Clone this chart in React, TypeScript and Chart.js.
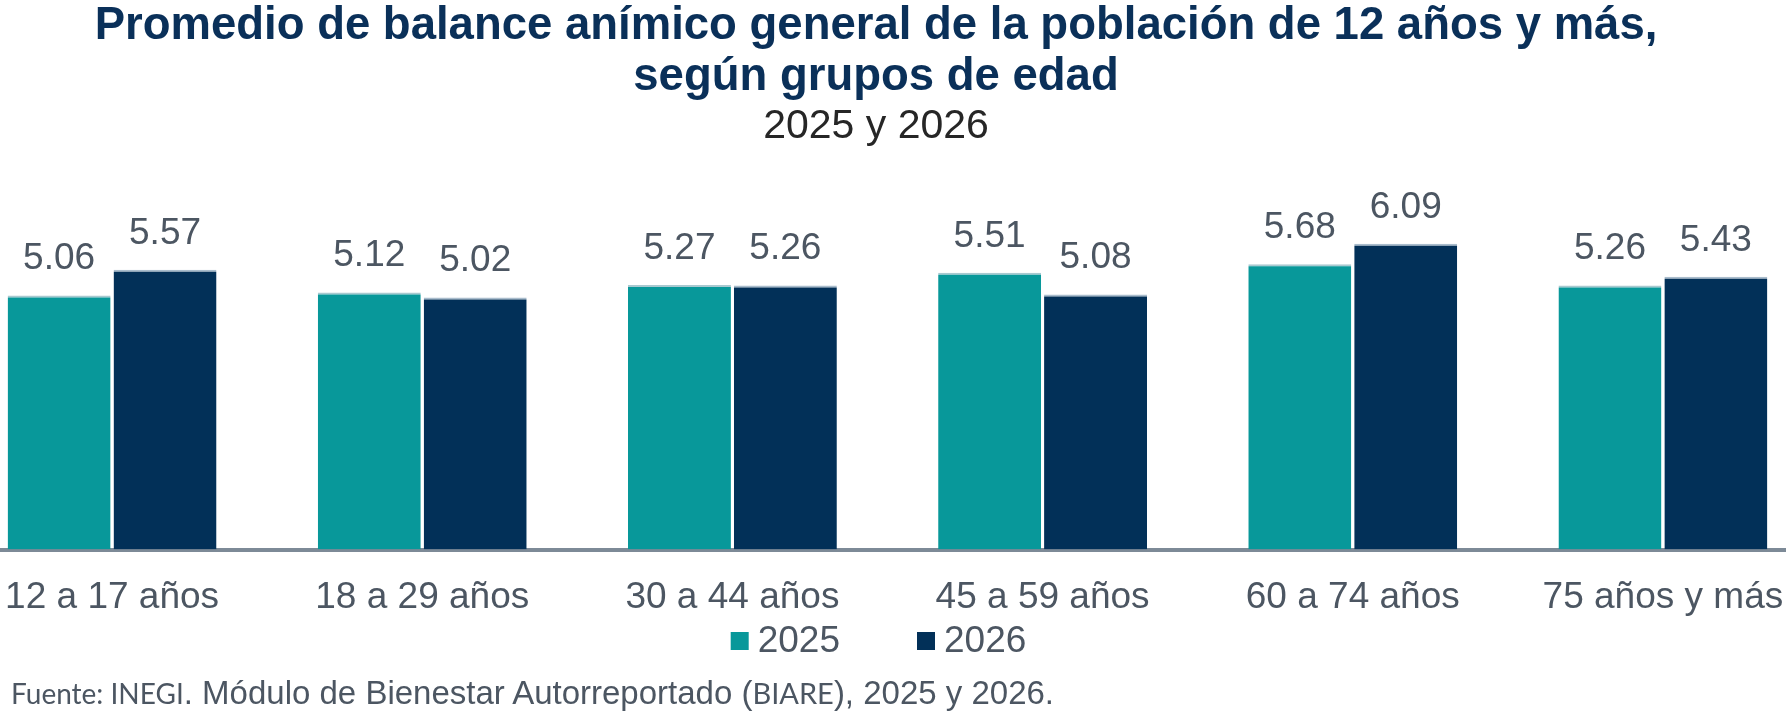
import { useEffect, useRef } from "react";
import { Chart, registerables } from "chart.js";

Chart.register(...registerables);

const categories = [
  "12 a 17 años",
  "18 a 29 años",
  "30 a 44 años",
  "45 a 59 años",
  "60 a 74 años",
  "75 años y más",
];
const values2025 = [5.06, 5.12, 5.27, 5.51, 5.68, 5.26];
const values2026 = [5.57, 5.02, 5.26, 5.08, 6.09, 5.43];
const seriesLabels = ["2025", "2026"];

const TEAL = "#08989a";
const NAVY = "#023058";
const GREY_TEXT = "#4c5662";
const FONT = "'Liberation Sans', Arial, sans-serif";

// value labels above every bar
const barValues = {
  id: "barValues",
  afterDatasetsDraw(chart: Chart) {
    const { ctx } = chart;
    ctx.save();
    ctx.font = `37px ${FONT}`;
    ctx.fillStyle = GREY_TEXT;
    ctx.textAlign = "center";
    ctx.textBaseline = "alphabetic";
    chart.data.datasets.forEach((ds, i) => {
      chart.getDatasetMeta(i).data.forEach((bar: any, j) => {
        const v = ds.data[j] as number;
        ctx.fillText(v.toFixed(2), bar.x, bar.y - 26);
      });
    });
    ctx.restore();
  },
};

// legend row under the axis labels
const legendRow = {
  id: "legendRow",
  afterDraw(chart: Chart) {
    const { ctx } = chart;
    const box = 18;
    const gap = 9;
    const spacing = 77;
    const y = 641;
    ctx.save();
    ctx.font = `37px ${FONT}`;
    const items = chart.data.datasets.map((ds) => ({
      label: ds.label as string,
      color: ds.backgroundColor as string,
      w: box + gap + ctx.measureText(ds.label as string).width,
    }));
    const total =
      items.reduce((s, it) => s + it.w, 0) + spacing * (items.length - 1);
    let x = chart.width / 2 - total / 2 - 9;
    items.forEach((it) => {
      ctx.fillStyle = it.color;
      ctx.fillRect(x, y - box / 2, box, box);
      ctx.fillStyle = GREY_TEXT;
      ctx.textAlign = "left";
      ctx.textBaseline = "middle";
      ctx.fillText(it.label, x + box + gap, y + 1);
      x += it.w + spacing;
    });
    ctx.restore();
  },
};

export default function App() {
  const canvasRef = useRef<HTMLCanvasElement>(null);
  const chartRef = useRef<Chart | null>(null);

  useEffect(() => {
    if (!canvasRef.current) return;
    if (chartRef.current) chartRef.current.destroy();

    chartRef.current = new Chart(canvasRef.current, {
      type: "bar",
      data: {
        labels: categories,
        datasets: [
          {
            label: seriesLabels[0],
            data: values2025,
            backgroundColor: TEAL,
            borderColor: "#a9c9d0",
            borderWidth: { top: 2, left: 0, right: 0, bottom: 0 },
            borderSkipped: "bottom",
            categoryPercentage: 0.683,
            barPercentage: 0.972,
          },
          {
            label: seriesLabels[1],
            data: values2026,
            backgroundColor: NAVY,
            borderColor: "#a9bccc",
            borderWidth: { top: 2, left: 0, right: 0, bottom: 0 },
            borderSkipped: "bottom",
            categoryPercentage: 0.683,
            barPercentage: 0.972,
          },
        ],
      },
      options: {
        responsive: false,
        animation: false,
        devicePixelRatio: 1,
        layout: { padding: { top: 198, bottom: 73, left: 0, right: 0 } },
        scales: {
          x: {
            grid: { display: false, drawTicks: false },
            border: { display: true, color: "#7d8a97", width: 4 },
            ticks: {
              color: GREY_TEXT,
              font: { family: FONT, size: 37 },
              padding: 26,
              maxRotation: 0,
              autoSkip: false,
            },
          },
          y: {
            display: false,
            min: 0,
            max: 7,
          },
        },
        plugins: {
          legend: { display: false },
          tooltip: { enabled: false },
        },
      },
      plugins: [barValues, legendRow],
    });

    return () => {
      if (chartRef.current) {
        chartRef.current.destroy();
        chartRef.current = null;
      }
    };
  }, []);

  return (
    <div
      style={{
        position: "absolute",
        left: 0,
        top: 0,
        width: 1786,
        height: 719,
        overflow: "hidden",
        background: "#fff",
        fontFamily: FONT,
      }}
    >
      <div
        style={{
          position: "absolute",
          left: -43,
          top: 0,
          width: 1861,
          height: 719,
        }}
      >
        <canvas ref={canvasRef} width={1861} height={719} />
      </div>
      <div
        style={{
          position: "absolute",
          left: -17,
          top: -2,
          width: 1786,
          textAlign: "center",
          color: "#0a3059",
          fontWeight: "bold",
          fontSize: 45.5,
          lineHeight: "51px",
          whiteSpace: "nowrap",
        }}
      >
        Promedio de balance anímico general de la población de 12 años y más,
        <br />
        según grupos de edad
      </div>
      <div
        style={{
          position: "absolute",
          left: -17,
          top: 100,
          width: 1786,
          textAlign: "center",
          color: "#262626",
          fontSize: 41,
          lineHeight: "48px",
        }}
      >
        2025 y 2026
      </div>
      <div
        style={{
          position: "absolute",
          left: 11,
          top: 674,
          color: GREY_TEXT,
          fontSize: 33,
          lineHeight: "38px",
          whiteSpace: "nowrap",
        }}
      >
        <span style={{ fontFamily: "Lato, sans-serif", fontSize: 28 }}>
          Fuente: INEGI
        </span>
        . Módulo de Bienestar Autorreportado (
        <span style={{ fontFamily: "Lato, sans-serif", fontSize: 29 }}>
          BIARE
        </span>
        ), 2025 y 2026.
      </div>
    </div>
  );
}
